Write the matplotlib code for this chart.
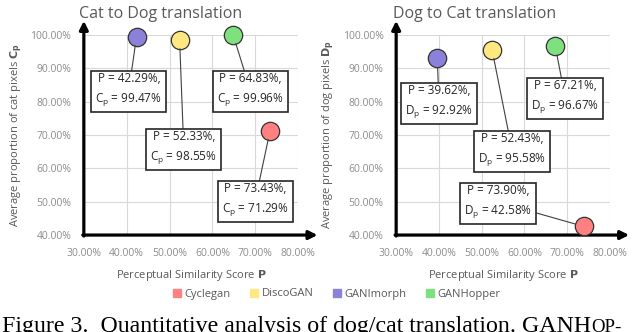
import numpy as np
import matplotlib
matplotlib.use('Agg')
from matplotlib import pyplot as plt

methods = ['Cyclegan', 'DiscoGAN', 'GANImorph', 'GANHopper']
colors = ['#FF8080', '#FFE880', '#8A82D8', '#7EE07E']

# Cat -> Dog
cd_p = [73.43, 52.33, 42.29, 64.83]
cd_c = [71.29, 98.55, 99.47, 99.96]
# Dog -> Cat
dc_p = [73.90, 52.43, 39.62, 67.21]
dc_d = [42.58, 95.58, 92.92, 96.67]

x_ticks = [30, 40, 50, 60, 70, 80]
y_ticks = [40, 50, 60, 70, 80, 90, 100]

# label box positions (data coords)
cd_label_pos = [(70.0, 50.5), (53.3, 66.1), (40.5, 83.5), (68.8, 83.5)]
dc_label_pos = [(53.8, 49.9), (57.1, 65.5), (40.0, 79.9), (69.5, 81.4)]

plt.rcParams['font.family'] = ['Open Sans', 'DejaVu Sans']

fig = plt.figure(figsize=(6.4, 3.32), dpi=100)
ax1 = fig.add_axes([0.131, 0.292, 0.335, 0.603])
ax2 = fig.add_axes([0.619, 0.292, 0.334, 0.603])

gray_txt = '#595959'
tick_txt = '#8C8C8C'


def draw_panel(ax, xs, ys, label_pos, sym, title, ylabel, title_x):
    ax.set_xlim(30, 80)
    ax.set_ylim(40, 100)
    ax.set_xticks(x_ticks)
    ax.set_yticks(y_ticks)
    ax.set_xticklabels(['{:.2f}%'.format(v) for v in x_ticks])
    ax.set_yticklabels(['{:.2f}%'.format(v) for v in y_ticks])
    ax.tick_params(axis='x', length=0, labelsize=7.5, colors=tick_txt, pad=9)
    ax.tick_params(axis='y', length=0, labelsize=7.5, colors=tick_txt, pad=9)
    ax.grid(True, color='#D9D9D9', lw=0.8)
    ax.set_axisbelow(True)
    for s in ax.spines.values():
        s.set_visible(False)

    # axis arrows
    ax.annotate('', xy=(0, 1.07), xytext=(0, -0.005), xycoords='axes fraction',
                arrowprops=dict(arrowstyle='-|>,head_length=0.5,head_width=0.25',
                                lw=2.3, color='black', shrinkA=0, shrinkB=0))
    ax.annotate('', xy=(1.09, 0), xytext=(-0.005, 0), xycoords='axes fraction',
                arrowprops=dict(arrowstyle='-|>,head_length=0.5,head_width=0.25',
                                lw=2.3, color='black', shrinkA=0, shrinkB=0))

    for i, m in enumerate(methods):
        ax.scatter(xs[i], ys[i], s=175, color=colors[i], edgecolor='#333333',
                   lw=0.9, zorder=4, label=m, clip_on=False)
        txt = 'P = {:.2f}%,\n{} = {:.2f}%'.format(xs[i], sym, ys[i])
        ax.annotate(txt, xy=(xs[i], ys[i]), xytext=label_pos[i],
                    ha='center', va='center', fontsize=8.5, color='#262626',
                    linespacing=1.5, annotation_clip=False,
                    bbox=dict(boxstyle='square,pad=0.35', fc='white', ec='#262626', lw=1.2),
                    arrowprops=dict(arrowstyle='-', color='#404040', lw=0.8,
                                    shrinkA=0, shrinkB=6.5),
                    zorder=5)

    ax.set_title(title, fontsize=11.5, color=gray_txt, pad=12, x=title_x)
    ax.set_xlabel(r'Perceptual Similarity Score $\mathbf{P}$', fontsize=8, color=gray_txt, labelpad=7)
    ax.set_ylabel(ylabel, fontsize=8, color=gray_txt, labelpad=4)


draw_panel(ax1, cd_p, cd_c, cd_label_pos, r'C$_\mathregular{p}$', 'Cat to Dog translation',
           r'Average proportion of cat pixels $\mathbf{C_p}$', 0.36)
draw_panel(ax2, dc_p, dc_d, dc_label_pos, r'D$_\mathregular{p}$', 'Dog to Cat translation',
           r'Average proportion of dog pixels $\mathbf{D_p}$', 0.365)

handles = [plt.Line2D([], [], marker='s', ls='', color=c, markersize=6) for c in colors]
fig.legend(handles, methods, loc='center', bbox_to_anchor=(0.525, 1 - 294 / 332),
           ncol=4, frameon=False, fontsize=8, handletextpad=0.2, columnspacing=1.6,
           labelcolor=gray_txt, handlelength=1.0)

# figure caption, cut off at the bottom edge like in the paper crop
cap_y = 1 - 332 / 332
cap = fig.text(0.003, cap_y, 'Figure 3.  Quantitative analysis of dog/cat translation. GANH',
               family='Liberation Serif', fontsize=17.2, color='black', va='baseline')
fig.canvas.draw()
bb = cap.get_window_extent()
fig.text(bb.x1 / fig.bbox.width, cap_y, 'OP-', family='Liberation Serif',
         fontsize=13.5, color='black', va='baseline')

fig.savefig('out.png', dpi=100)
